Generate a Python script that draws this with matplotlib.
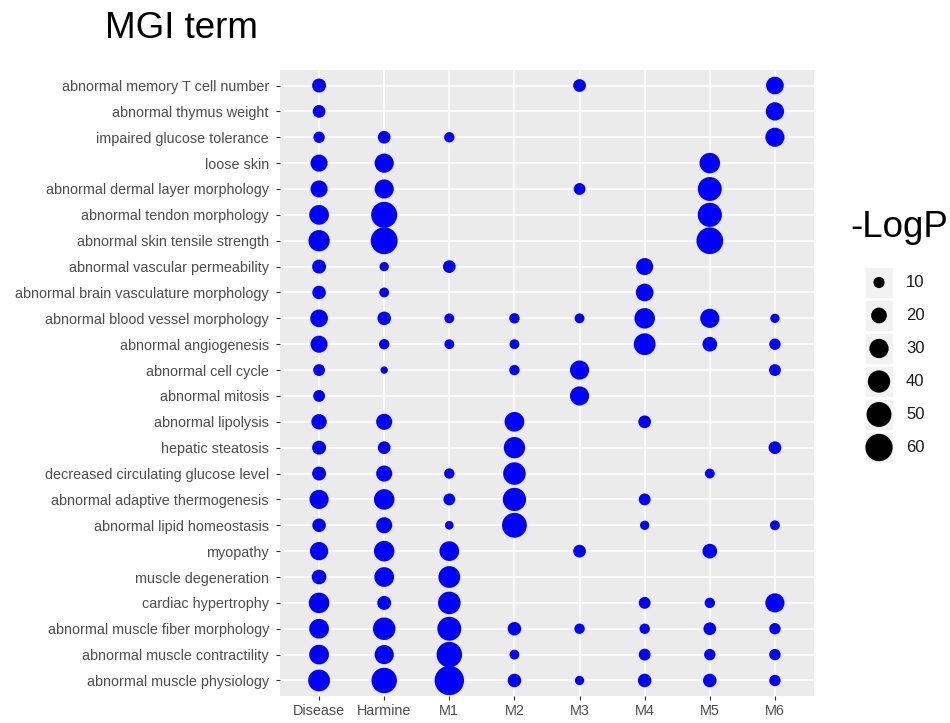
import numpy as np
import matplotlib
matplotlib.use("Agg")
import matplotlib.pyplot as plt
from matplotlib.patches import Rectangle

plt.rcParams['font.family'] = ['Liberation Sans', 'DejaVu Sans']

# terms, top to bottom
terms = [
    "abnormal memory T cell number",
    "abnormal thymus weight",
    "impaired glucose tolerance",
    "loose skin",
    "abnormal dermal layer morphology",
    "abnormal tendon morphology",
    "abnormal skin tensile strength",
    "abnormal vascular permeability",
    "abnormal brain vasculature morphology",
    "abnormal blood vessel morphology",
    "abnormal angiogenesis",
    "abnormal cell cycle",
    "abnormal mitosis",
    "abnormal lipolysis",
    "hepatic steatosis",
    "decreased circulating glucose level",
    "abnormal adaptive thermogenesis",
    "abnormal lipid homeostasis",
    "myopathy",
    "muscle degeneration",
    "cardiac hypertrophy",
    "abnormal muscle fiber morphology",
    "abnormal muscle contractility",
    "abnormal muscle physiology",
]
groups = ["Disease", "Harmine", "M1", "M2", "M3", "M4", "M5", "M6"]

N = None
disease = [18, 15, 12, 27, 27, 36, 42, 18, 17, 29, 27, 13, 13, 22, 18, 18, 34, 17, 31, 20, 39, 36, 36, 44]
harmine = [N, N, 15, 34, 34, 63, 67, 8, 9, 17, 10, 5, N, 24, 15, 24, 39, 24, 39, 36, 18, 47, 34, 60]
m1 = [N, N, 10, N, N, N, N, 15, N, 9, 9, N, N, N, N, 10, 13, 7, 36, 44, 47, 53, 60, 80]
m2 = [N, N, N, N, N, N, N, N, N, 10, 9, 10, N, 36, 42, 47, 50, 57, N, N, N, 17, 9, 17]
m3 = [15, N, N, N, 13, N, N, N, N, 9, N, 34, 34, N, N, N, N, N, 15, N, N, 10, N, 8]
m4 = [N, N, N, N, N, N, N, 27, 29, 39, 44, N, N, 15, N, N, 13, 8, N, N, 13, 10, 13, 17]
m5 = [N, N, N, 39, 53, 54, 66, N, N, 34, 20, N, N, N, N, 9, N, N, 20, N, 10, 15, 12, 17]
m6 = [29, 31, 34, N, N, N, N, N, N, 8, 12, 13, N, N, 15, N, N, 9, N, N, 34, 12, 12, 12]
columns = [disease, harmine, m1, m2, m3, m4, m5, m6]

legend_values = [10, 20, 30, 40, 50, 60]

AREA = 5.6  # points^2 per unit of -LogP

fig = plt.figure(figsize=(9.5, 7.23), dpi=100)
ax = fig.add_axes([280 / 950, 27 / 723, 534 / 950, 626 / 723])
ax.set_facecolor("#EBEBEB")

for gi, col in enumerate(columns):
    ys = [ti for ti, v in enumerate(col) if v is not None]
    vs = [v for v in col if v is not None]
    ax.scatter([gi] * len(ys), ys, s=[AREA * v for v in vs], color="#0000FF",
               edgecolors="none", zorder=3)

ax.set_xlim(-0.6, len(groups) - 0.4)
ax.set_ylim(len(terms) - 0.4, -0.6)
ax.set_xticks(range(len(groups)))
ax.set_xticklabels(groups)
ax.set_yticks(range(len(terms)))
ax.set_yticklabels(terms)
ax.grid(True, color="white", linewidth=1.1, zorder=0)
ax.set_axisbelow(True)
for sp in ax.spines.values():
    sp.set_visible(False)
ax.tick_params(axis="both", length=3, width=0.8, color="#333333",
               labelcolor="#4D4D4D", labelsize=10.4)
ax.tick_params(axis="y", pad=5)
ax.tick_params(axis="x", pad=3)

fig.text(105 / 950, 1 - 38 / 723, "MGI term", fontsize=26.5, ha="left", va="baseline")
fig.text(850 / 950, 1 - 237 / 723, "-LogP", fontsize=26.5, ha="left", va="baseline")

# legend
lax = fig.add_axes([864 / 950, 1 - 464 / 723, 30 / 950, 198 / 723])
lax.set_xlim(0, 1)
lax.set_ylim(len(legend_values), 0)
lax.axis("off")
for i, v in enumerate(legend_values):
    lax.add_patch(Rectangle((0, i), 1, 1, facecolor="#F2F2F2", edgecolor="white",
                            linewidth=2))
    lax.scatter([0.5], [i + 0.5], s=AREA * 1.15 * v, color="black", edgecolors="none",
                zorder=3)
    lax.text(1.4, i + 0.5, str(v), fontsize=12, color="#1A1A1A", ha="left",
             va="center")

fig.savefig("out.png", dpi=100)
